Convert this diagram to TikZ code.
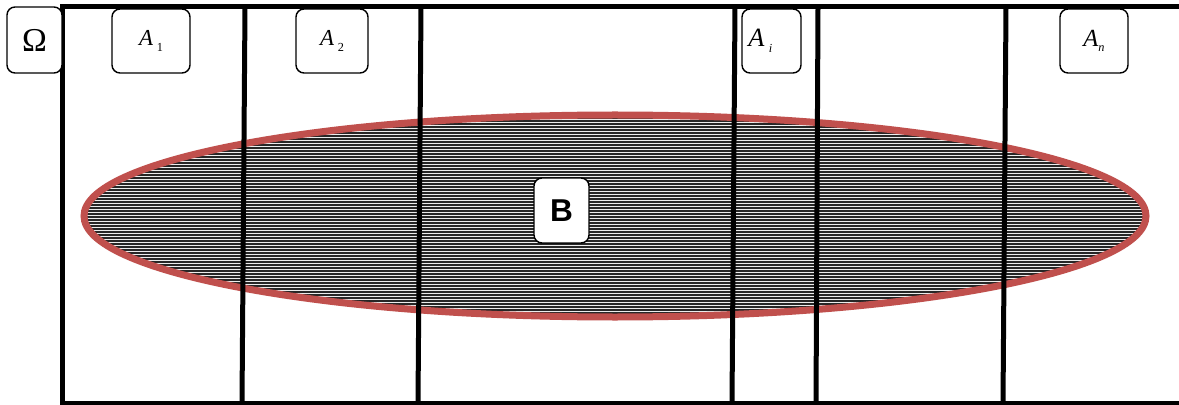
\documentclass[tikz,border=0pt]{standalone}
\usepackage{fontspec}
\setmainfont{Liberation Serif}
\newfontfamily\labelsans{Liberation Sans}
\usepackage{xcolor}
\usepackage{tikz}
\usetikzlibrary{calc,positioning}

\definecolor{setred}{RGB}{192,80,77}

\tikzset{
    part/.style={line width=5*0.02cm, black},
    tag/.style={draw, thick, fill=white, rounded corners=8*0.02cm, inner sep=0pt},
}

\begin{document}
\begin{tikzpicture}[x=0.02cm, y=-0.02cm]

    \useasboundingbox (0,0) rectangle (1179,405);

    % Set B, striped
    \begin{scope}
        \clip (615,216) ellipse (531 and 101);
        \fill[gray!15] (80,110) rectangle (1150,322);
        \foreach \y in {112,115,...,322} {
            \draw[line width=1.1*0.02cm, black!85] (80,\y) -- (1150,\y);
        }
    \end{scope}
    \draw[line width=7*0.02cm, setred] (615,216) ellipse (531 and 101);

    % Omega
    \draw[part] (1179,7) -- (62,7) -- (62,403) -- (1179,403);

    % Partition A_1 ... A_n
    \foreach \xt/\xb in {245/242, 421/418, 735/732, 818/816, 1006/1003} {
        \draw[part] (\xt,7) -- (\xb,403);
    }

    % Labels
    \node[tag, minimum width=1.1cm, minimum height=1.32cm] (omega) at (34.5,40) {\fontsize{19}{19}\selectfont Ω};
    \node[tag, minimum width=1.56cm, minimum height=1.28cm] (a1) at (151,41) {\fontsize{13}{13}\selectfont\textit{A}\,\raisebox{-0.5ex}{\scriptsize 1}};
    \node[tag, minimum width=1.44cm, minimum height=1.28cm] (a2) at (332,41) {\fontsize{13}{13}\selectfont\textit{A}\,\raisebox{-0.5ex}{\scriptsize 2}};
    \node[tag, minimum width=1.18cm, minimum height=1.28cm] (ai) at (771.5,41) {\hspace{-0.45cm}\fontsize{15}{15}\selectfont\textit{A}\,\raisebox{-0.5ex}{\scriptsize\textit{i}}};
    \node[tag, minimum width=1.36cm, minimum height=1.28cm] (an) at (1094,41) {\fontsize{14}{14}\selectfont\textit{A}\raisebox{-0.5ex}{\scriptsize\textit{n}}};
    \node[tag, minimum width=1.1cm, minimum height=1.3cm] (b) at (561.5,210.5) {\labelsans\bfseries\fontsize{18}{18}\selectfont B};

\end{tikzpicture}
\end{document}
